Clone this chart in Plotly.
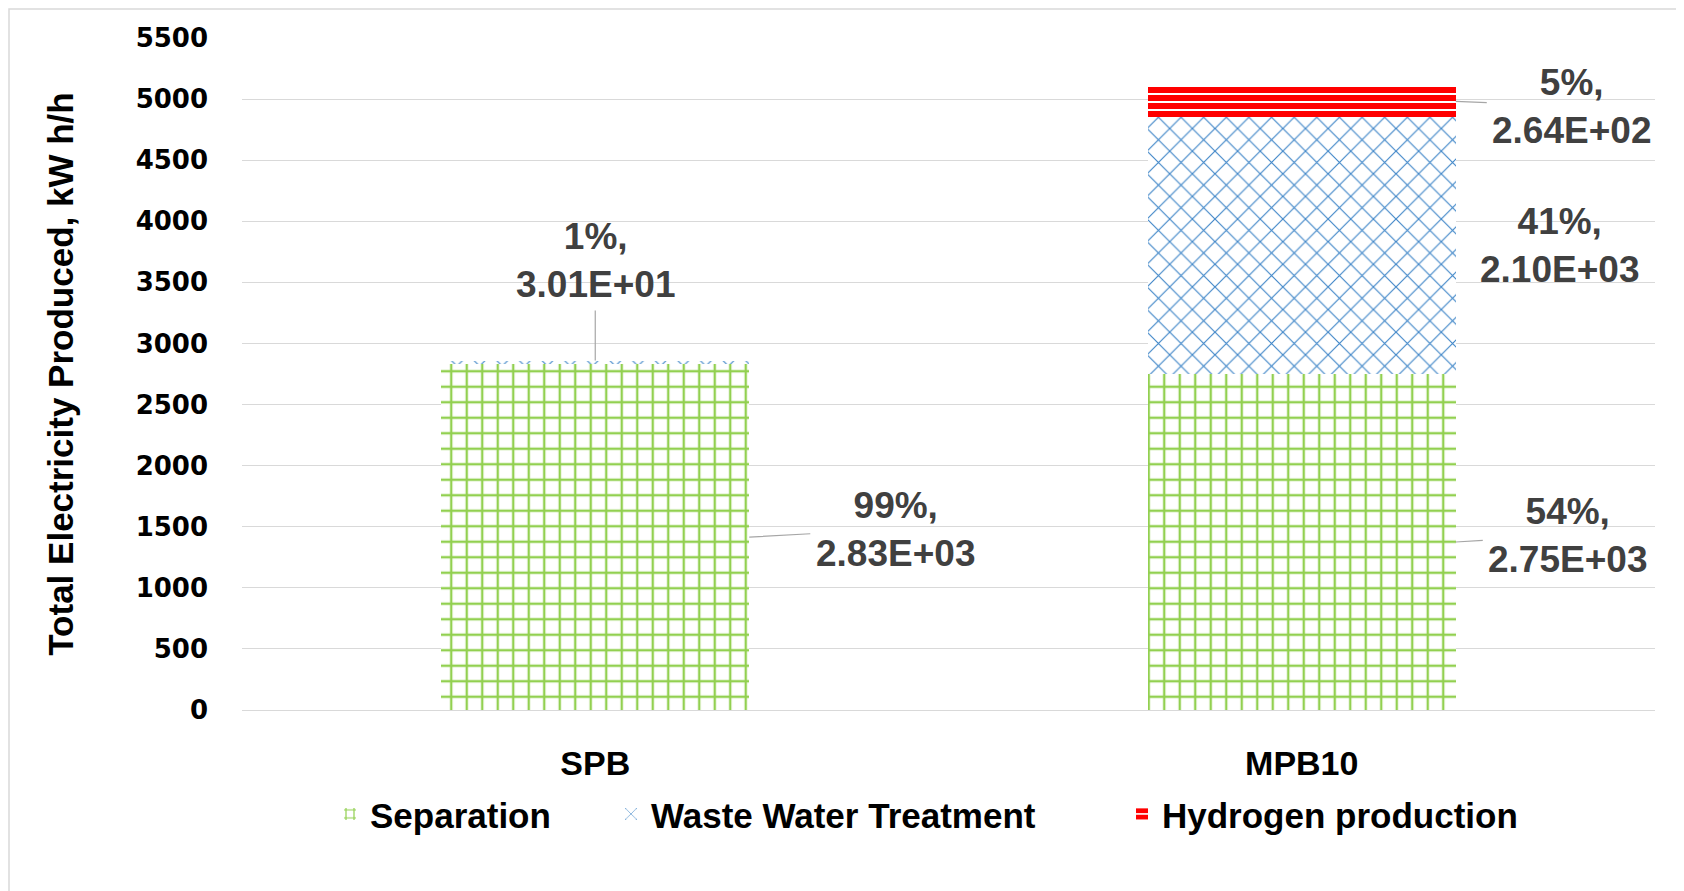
import plotly.graph_objects as go

# data
categories = ["SPB", "MPB10"]
separation = [2830, 2750]
waste_water = [30.1, 2100]
hydrogen = [0, 264]
sep_pct = ["99%", "54%"]
wwt_pct = ["1%", "41%"]
h2_pct = ["", "5%"]
y_ticks = list(range(0, 5501, 500))

GREEN = "#92D050"
BLUE = "#3F86C8"
RED = "#FF0000"
LABEL_FONT = "Liberation Sans, Arial"
BAR_W = 0.436

# page body adds an 8px offset, so the figure is drawn a bit smaller
W, H = 1676, 883
L, R, T, B = 234, 29, 30, 181
PLOT_W = W - L - R
PLOT_H = H - T - B


def px_to_paper(px):
    return (px - L) / PLOT_W


fig = go.Figure()
fig.add_trace(go.Bar(
    x=categories, y=separation, name="Separation", width=BAR_W, legend="legend",
    marker=dict(color=GREEN, line=dict(width=0),
                pattern=dict(shape="+", size=15.5, solidity=0.28, fgopacity=1,
                             fgcolor=GREEN, bgcolor="white")),
))
fig.add_trace(go.Bar(
    x=categories, y=waste_water, name="Waste Water Treatment", width=BAR_W, legend="legend2",
    marker=dict(color=BLUE, line=dict(width=0),
                pattern=dict(shape="x", size=16, solidity=0.14, fgopacity=1,
                             fgcolor=BLUE, bgcolor="white")),
))
fig.add_trace(go.Bar(
    x=categories, y=hydrogen, name="Hydrogen production", width=BAR_W, legend="legend3",
    marker=dict(color=RED, line=dict(width=0),
                pattern=dict(shape="-", size=8, solidity=0.75, fgopacity=1,
                             fgcolor=RED, bgcolor="white")),
))


def label(pct, val):
    return f"{pct},<br>{val:.2E}"


# (category index, anchor at bar edge?, y value, ax, ay, leader line, text)
notes = [
    (0, True, separation[0] / 2, 146, -8, True, label(sep_pct[0], separation[0])),
    (0, False, separation[0] + waste_water[0], 0, -100, True, label(wwt_pct[0], waste_water[0])),
    (1, True, separation[1] / 2, 112, -7, True, label(sep_pct[1], separation[1])),
    (1, True, separation[1] + waste_water[1] / 2, 104, 0, False, label(wwt_pct[1], waste_water[1])),
    (1, True, separation[1] + waste_water[1] + hydrogen[1] / 2, 116, 5, True,
     label(h2_pct[1], hydrogen[1])),
]

for idx, edge, yv, ax, ay, leader, txt in notes:
    fig.add_annotation(
        x=idx + (BAR_W / 2 if edge else 0), y=yv, xref="x", yref="y",
        text=txt, showarrow=True, arrowhead=0, arrowwidth=1.2,
        arrowcolor="#A6A6A6" if leader else "rgba(0,0,0,0)",
        ax=ax, ay=ay, startstandoff=4,
        font=dict(family=LABEL_FONT, size=37, color="#404040", weight="bold"),
        align="center",
    )

# chart-area border
fig.add_shape(type="rect", xref="paper", yref="paper",
              x0=px_to_paper(1), x1=1.05, y0=-0.3, y1=1 + 29 / PLOT_H,
              line=dict(color="#D9D9D9", width=1.5), layer="below")

legend_font = dict(family=LABEL_FONT, size=35, color="black", weight="bold")
legend_common = dict(orientation="h", y=-0.155, yanchor="middle", xanchor="left",
                     font=legend_font, bgcolor="rgba(0,0,0,0)")

fig.update_layout(
    width=W, height=H,
    margin=dict(l=L, r=R, t=T, b=B),
    barmode="stack",
    plot_bgcolor="white", paper_bgcolor="white",
    font=dict(family=LABEL_FONT, color="black"),
    showlegend=True,
    legend=dict(x=px_to_paper(322), **legend_common),
    legend2=dict(x=px_to_paper(603), **legend_common),
    legend3=dict(x=px_to_paper(1114), **legend_common),
    xaxis=dict(type="category", range=[-0.5, 1.5], showgrid=False,
               tickfont=dict(family=LABEL_FONT, size=34, color="black", weight="bold"),
               ticklabelstandoff=30, showline=False),
    yaxis=dict(range=[0, 5500], tickvals=y_ticks, showgrid=True,
               gridcolor="#D9D9D9", gridwidth=1,
               zeroline=True, zerolinecolor="#D9D9D9", zerolinewidth=1,
               tickfont=dict(family="DejaVu Sans", size=26, color="black", weight="bold"),
               ticklabelstandoff=33,
               title=dict(text="Total Electricity Produced, kW h/h", standoff=51,
                          font=dict(family=LABEL_FONT, size=35, color="black", weight="bold"))),
)

fig.write_html("out.html")
